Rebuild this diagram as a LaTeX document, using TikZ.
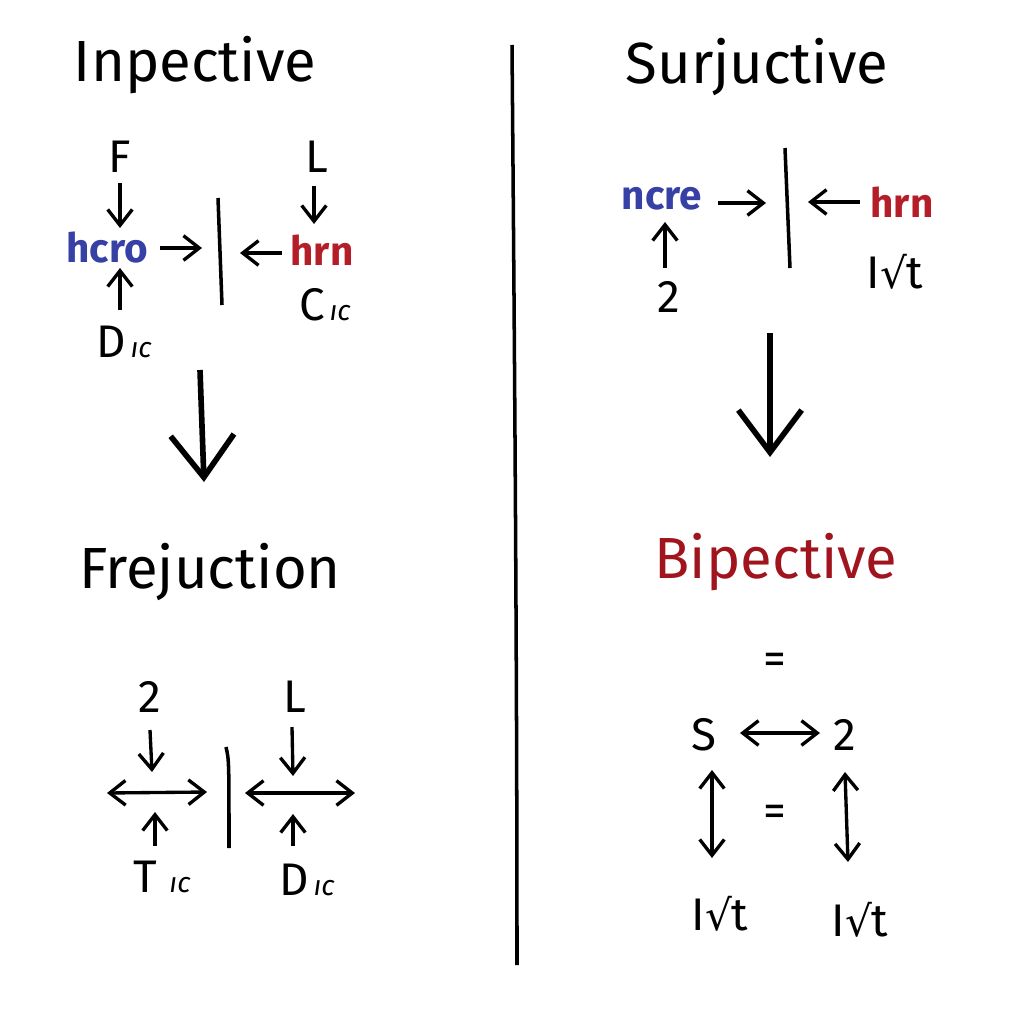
\documentclass[tikz,border=0pt]{standalone}
\usepackage{fontspec}
\setmainfont{Fira Sans}
\newfontfamily\symf{DejaVu Sans}
\usetikzlibrary{arrows.meta,calc}
\definecolor{inkblue}{RGB}{55,65,165}
\definecolor{inkred}{RGB}{180,30,40}
\definecolor{darkred}{RGB}{160,20,30}
\newcommand{\icsub}{{\fontsize{8}{9}\selectfont\itshape\,ıc}}
\newcommand{\sqrtt}{I{\symf\fontsize{12}{14}\selectfont √}t}
\begin{document}
\begin{tikzpicture}[x=0.01cm,y=-0.01cm,
  title/.style={font=\fontsize{16.5}{18}\selectfont, inner sep=0pt},
  lab/.style={font=\fontsize{13}{15}\selectfont, inner sep=1pt},
  word/.style={font=\fontsize{11.5}{14}\selectfont\bfseries, inner sep=1pt},
  arr/.style={line width=0.95pt, -{Straight Barb[length=4.5pt,width=7pt]}},
  darr/.style={line width=0.95pt, {Straight Barb[length=4.5pt,width=7pt]}-{Straight Barb[length=4.5pt,width=7pt]}},
  bar/.style={line width=1pt},
  big/.style={line width=1.6pt, -{Straight Barb[length=12pt,width=18pt,line width=1.6pt]}}]
\useasboundingbox (0,0) rectangle (1024,1024);
% divider
\draw[bar] (512,45) .. controls (515,400) and (517,700) .. (517,965);
% titles
\node[title] (t1) at (195,65) {Inpective};
\node[title] (t2) at (757,67) {Surjuctive};
\node[title] (t3) at (210,572) {Frejuction};
\node[title, text=darkred] (t4) at (776,562) {Bipective};
% --- top left
\node[lab] (F) at (120,157) {F};
\node[word, text=inkblue] (hcro) at (107,248) {hcro};
\node[lab] (D1) at (124,342) {D\icsub};
\node[lab] (L1) at (317,157) {L};
\node[word, text=inkred] (hrn1) at (322,250) {hrn};
\node[lab] (C1) at (325,305) {C\icsub};
\coordinate (b1t) at (218,198); \coordinate (b1b) at (222,305);
\draw[bar] (b1t) -- (b1b);
\coordinate (a1e) at (202,248); \coordinate (a2e) at (240,253);
\draw[arr] (120,183) -- (120,228);
\draw[arr] (160,248) -- (a1e);
\draw[arr] (282,253) -- (a2e);
\draw[arr] (314,186) -- (314,224);
\draw[arr] (120,310) -- (120,268);
% big arrow left
\coordinate (g1s) at (200,370); \coordinate (g1e) at (204,482);
\draw[big] (g1s) -- (g1e);
% --- bottom left
\node[lab] (two1) at (150,697) {2};
\node[lab] (L2) at (295,697) {L};
\node[lab] (T1) at (162,877) {T\,\icsub};
\node[lab] (D2) at (307,880) {D\icsub};
\coordinate (h1l) at (107,793); \coordinate (h1r) at (207,792);
\coordinate (h2l) at (245,793); \coordinate (h2r) at (355,793);
\draw[darr] (h1l) -- (h1r);
\draw[darr] (h2l) -- (h2r);
\draw[bar] (226,747) .. controls (229,760) .. (229,848);
\draw[arr] (150,730) -- (152,772);
\draw[arr] (292,727) -- (293,776);
\draw[arr] (155,846) -- (155,812);
\draw[arr] (293,846) -- (293,814);
% --- top right
\node[word, text=inkblue] (ncre) at (662,199) {ncre};
\node[word, text=inkred] (hrn2) at (902,202) {hrn};
\node[lab] (two2) at (669,297) {2};
\node[lab] (I1) at (895,272) {\sqrtt};
\draw[bar] (785,148) -- (790,268);
\draw[arr] (718,203) -- (766,203);
\draw[arr] (860,202) -- (808,202);
\draw[arr] (665,268) -- (665,222);
% big arrow right
\draw[big] (770,333) -- (770,457);
% --- bipective diagram
\node[lab] (eq1) at (775,664) {=};
\node[lab] (S) at (704,735) {S};
\node[lab] (two3) at (845,735) {2};
\node[lab] (eq2) at (775,816) {=};
\node[lab] (I2) at (720,914) {\sqrtt};
\node[lab] (I3) at (860,920) {\sqrtt};
\draw[darr] (740,733) -- (820,733);
\draw[darr] (712,770) -- (712,858);
\draw[darr] (845,772) -- (848,862);
\end{tikzpicture}
\end{document}
